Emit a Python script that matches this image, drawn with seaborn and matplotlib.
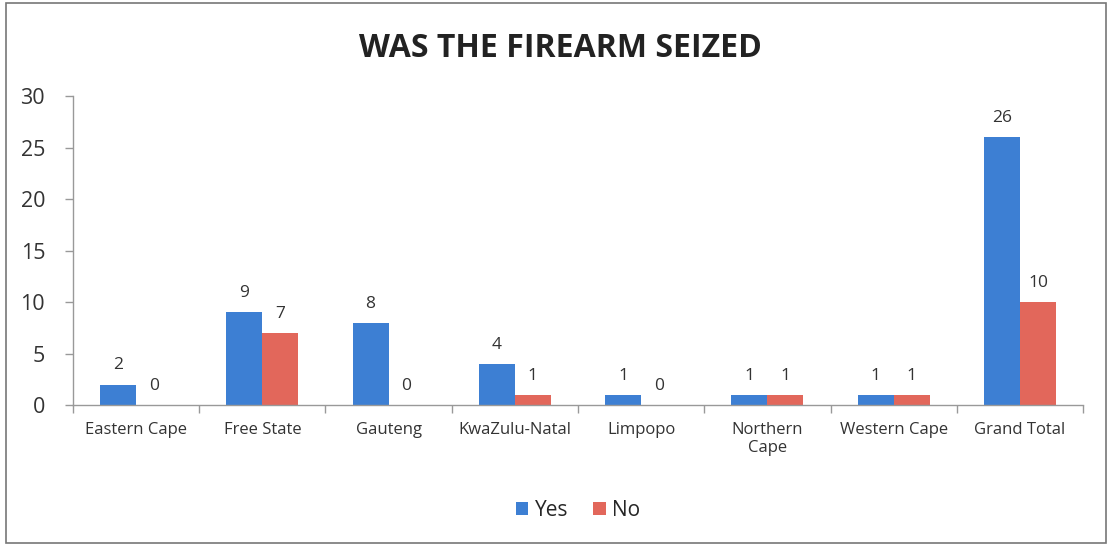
import pandas as pd
import matplotlib.pyplot as plt
import seaborn as sns
from matplotlib.patches import Rectangle

# Data
provinces = ['Eastern Cape', 'Free State', 'Gauteng', 'KwaZulu-Natal', 'Limpopo',
             'Northern\nCape', 'Western Cape', 'Grand Total']
yes_vals = [2, 9, 8, 4, 1, 1, 1, 26]
no_vals = [0, 7, 0, 1, 0, 1, 1, 10]

df = pd.DataFrame({
    'province': provinces * 2,
    'answer': ['Yes'] * len(provinces) + ['No'] * len(provinces),
    'count': yes_vals + no_vals,
})

sns.set_theme(style='white')
plt.rcParams['font.family'] = ['Open Sans', 'DejaVu Sans']

fig = plt.figure(figsize=(11.12, 5.46), dpi=100)
ax = fig.add_axes([0.0656, 0.258, 0.9084, 0.566])

palette = {'Yes': '#3d7fd3', 'No': '#e2675b'}
sns.barplot(data=df, x='province', y='count', hue='answer', palette=palette,
            width=0.57, gap=0, saturation=1, linewidth=0, ax=ax, legend=True)

for cont in ax.containers:
    ax.bar_label(cont, fmt='%d', padding=8, fontsize=12.5, color='#333333')

ax.set_ylim(0, 30)
ax.set_yticks(range(0, 31, 5))
ax.set_xlim(-0.5, len(provinces) - 0.5)
ax.set_xlabel('')
ax.set_ylabel('')

# category boundary ticks
ax.set_xticks([i - 0.5 for i in range(len(provinces) + 1)], minor=True)
ax.tick_params(axis='x', which='major', length=0, labelsize=12, pad=12,
               labelcolor='#333333')
ax.tick_params(axis='x', which='minor', length=6, width=1, color='#999999',
               direction='out', bottom=True)
ax.tick_params(axis='y', length=6, width=1, color='#999999', direction='out',
               left=True, labelsize=15.5, labelcolor='#333333', pad=14)

for side in ['top', 'right']:
    ax.spines[side].set_visible(False)
for side in ['left', 'bottom']:
    ax.spines[side].set_color('#999999')
    ax.spines[side].set_linewidth(1)

ax.text(0.483, 1.10, 'WAS THE FIREARM SEIZED', transform=ax.transAxes,
        ha='center', va='bottom', fontsize=23, fontweight='bold', color='#222222')

leg = ax.legend(loc='upper center', bbox_to_anchor=(0.5, -0.245), ncol=2,
                frameon=False, fontsize=15, handlelength=0.6, handleheight=0.6,
                handletextpad=0.3, columnspacing=1.2)

fig.patches.append(Rectangle((0.005, 0.006), 0.99, 0.988, transform=fig.transFigure,
                             fill=False, edgecolor='#777777', linewidth=1.2))

fig.savefig('out.png', dpi=100)
